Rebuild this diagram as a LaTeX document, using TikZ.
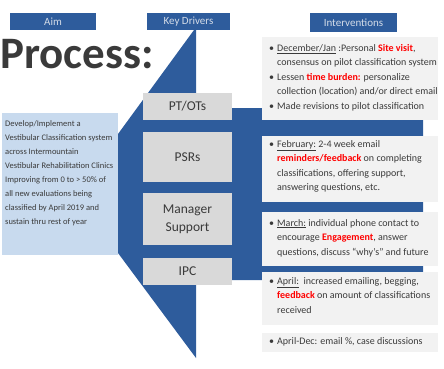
\documentclass[tikz,border=0pt]{standalone}
\usepackage{fontspec}
\setmainfont{Carlito}
\usetikzlibrary{positioning}
\definecolor{qiblue}{RGB}{46,92,156}
\definecolor{headtext}{RGB}{212,220,232}
\definecolor{aimblue}{RGB}{200,218,238}
\definecolor{drvgray}{RGB}{217,217,217}
\definecolor{intgray}{RGB}{242,242,242}
\definecolor{txtgray}{RGB}{58,58,58}
\newcommand{\hl}[1]{\textcolor{red}{\textbf{#1}}}
\newcommand{\bitem}{\makebox[8pt][l]{\textbullet}}
\newcommand{\bcont}{\hspace*{8pt}}

\begin{document}
\begin{tikzpicture}[x=1pt, y=-1pt]
	\useasboundingbox (0,0) rectangle (444,368);
	\begin{scope}
		\tikzstyle{every node}=[inner sep=0pt]
		\tikzset{
			head/.style={fill=qiblue, text=headtext, font=\fontsize{11}{12}\selectfont, minimum height=17pt},
			driver/.style={fill=drvgray, text=txtgray, font=\fontsize{13.5}{18}\selectfont, minimum width=89pt, align=center},
			intbox/.style={fill=intgray, minimum width=176pt},
			inttext/.style={text=txtgray, font=\fontsize{10}{14.5}\selectfont, align=left, anchor=north west}
		}

		\node[head, minimum width=86pt] (aimhd) at (53, 21.5) {Aim};
		\node[head, minimum width=83pt] (keyhd) at (188.5, 21.5) {Key Drivers};
		\node[head, minimum width=87pt, minimum height=19pt] (inthd) at (353.5, 22.5) {Interventions};

		\node[anchor=base west, text=txtgray, font=\fontsize{45}{50}\selectfont\bfseries] (proc) at (0, 68) {Process:};

		\fill[qiblue] (194,30) -- (196,30) -- (196,108) -- (423,108) -- (423,280)
			-- (196,280) -- (196,358) -- (118,253) -- (118,134) -- cycle;

		\node[fill=aimblue, minimum width=116pt, minimum height=142pt] (aimbox) at (60, 184) {};
		\node[text=txtgray, font=\fontsize{8.5}{14}\selectfont, align=left, anchor=north west] (aimtxt) at (5, 120)
			{Develop/Implement a\\Vestibular Classification system\\across Intermountain\\Vestibular Rehabilitation Clinics\\Improving from 0 to > 50\% of\\all new evaluations being\\classified by April 2019 and\\sustain thru rest of year};

		\node[driver, minimum height=27pt] (ptot) at (187.5, 106.5) {PT/OTs};
		\node[driver, minimum height=50pt] (psr)  at (187.5, 157)   {PSRs};
		\node[driver, minimum height=52pt] (mgr)  at (187.5, 219)   {Manager\\Support};
		\node[driver, minimum height=27pt] (ipc)  at (187.5, 271.5) {IPC};

		\node[intbox, minimum height=83pt] (dec)  at (350, 78.5)  {};
		\node[intbox, minimum height=66pt] (feb)  at (350, 169)   {};
		\node[intbox, minimum height=54pt] (mar)  at (350, 239)   {};
		\node[intbox, minimum height=53pt] (apr)  at (350, 298.5) {};
		\node[intbox, minimum height=19pt] (rest) at (350, 342.5) {};

		\node[inttext] (dectxt) at (269, 44)
			{\bitem\underline{December/Jan} :Personal \hl{Site visit},\\
			 \bcont consensus on pilot classification system\\
			 \bitem Lessen \hl{time burden:} personalize\\
			 \bcont collection (location) and/or direct email\\
			 \bitem Made revisions to pilot classification};
		\node[inttext] (febtxt) at (269, 140)
			{\bitem\underline{February:} 2-4 week email\\
			 \bcont\hl{reminders/feedback} on completing\\
			 \bcont classifications, offering support,\\
			 \bcont answering questions, etc.};
		\node[inttext] (martxt) at (269, 219)
			{\bitem\underline{March:} individual phone contact to\\
			 \bcont encourage \hl{Engagement}, answer\\
			 \bcont questions, discuss “why’s” and future};
		\node[inttext] (aprtxt) at (269, 277)
			{\bitem\underline{April:}\ \ increased emailing, begging,\\
			 \bcont\hl{feedback} on amount of classifications\\
			 \bcont received};
		\node[inttext] (resttxt) at (269, 337)
			{\bitem April-Dec: email \%, case discussions};
	\end{scope}
\end{tikzpicture}
\end{document}
